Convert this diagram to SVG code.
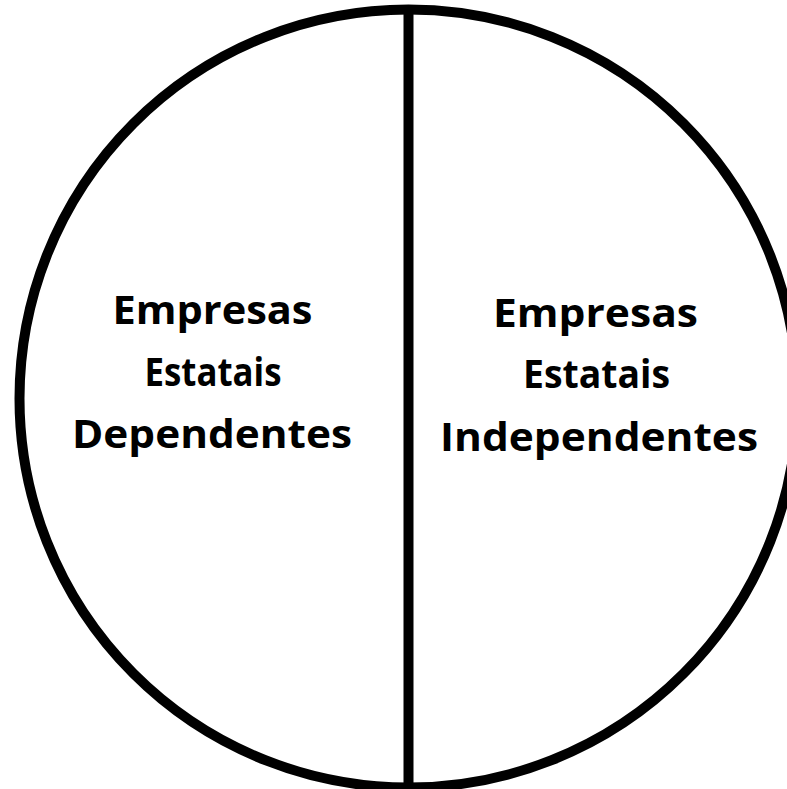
<svg xmlns="http://www.w3.org/2000/svg" width="787" height="789" viewBox="0 0 787 789">
<style>
.t{font-family:"Open Sans","Liberation Sans",sans-serif;font-weight:bold;font-size:39px;fill:#000;text-anchor:middle}
</style>
<rect width="787" height="789" fill="#fff"/>
<g id="circle">
<circle cx="408.5" cy="398.5" r="389" fill="#fff" stroke="#000" stroke-width="10"/>
</g>
<g id="connectors">
<line x1="408.5" y1="8" x2="408.5" y2="789" stroke="#000" stroke-width="10"/>
</g>
<g id="left">
<text class="t" x="212.5" y="324" textLength="200" lengthAdjust="spacingAndGlyphs">Empresas</text>
<text class="t" x="213" y="385.5" textLength="137" lengthAdjust="spacingAndGlyphs">Estatais</text>
<text class="t" x="212" y="448" textLength="280" lengthAdjust="spacingAndGlyphs">Dependentes</text>
</g>
<g id="right">
<text class="t" x="595.5" y="327" textLength="205" lengthAdjust="spacingAndGlyphs">Empresas</text>
<text class="t" x="596.5" y="388" textLength="147" lengthAdjust="spacingAndGlyphs">Estatais</text>
<text class="t" x="599" y="451" textLength="318" lengthAdjust="spacingAndGlyphs">Independentes</text>
</g>
</svg>
